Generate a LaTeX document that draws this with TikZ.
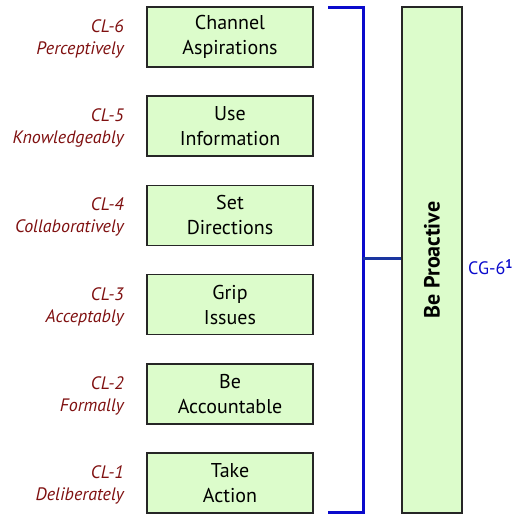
\documentclass[tikz,border=0pt]{standalone}
\usepackage{fontspec}
\setmainfont{PT Sans}
\definecolor{boxgreen}{HTML}{DCFCCB}
\definecolor{lblred}{HTML}{7F1010}
\definecolor{brblue}{HTML}{0A0ACC}
\definecolor{tickblue}{HTML}{1A35A0}
\tikzset{
  x=1pt, y=-1pt,
  skill/.style={draw=black!85, line width=1.6pt, fill=boxgreen, minimum width=166pt, minimum height=60pt, inner sep=0pt, align=center, font=\fontsize{20}{25}\selectfont},
  lbl/.style={anchor=east, align=right, text=lblred, font=\fontsize{18}{22}\selectfont\itshape, inner sep=0pt},
  brk/.style={draw=brblue, line width=3pt},
}
\begin{document}
\begin{tikzpicture}
\useasboundingbox (0,0) rectangle (524,524);
\foreach \i/\t/\l/\m in {6/{Channel\\Aspirations}/CL-6/Perceptively,
                        5/{Use\\Information}/CL-5/Knowledgeably,
                        4/{Set\\Directions}/CL-4/Collaboratively,
                        3/{Grip\\Issues}/CL-3/Acceptably,
                        2/{Be\\Accountable}/CL-2/Formally,
                        1/{Take\\Action}/CL-1/Deliberately}{
  \pgfmathsetmacro{\yc}{37+(6-\i)*89.2}
  \node[skill] (s\i) at (230,\yc) {\t};
  \node[lbl] (l\i) at (124,\yc+2) {\l\\\m};
}
\node[draw=black!85, line width=1.6pt, fill=boxgreen, minimum width=60pt, minimum height=506pt, inner sep=0pt] (bp) at (432,260) {};
\node[rotate=90, font=\fontsize{22}{26}\selectfont\bfseries] (bpt) at (bp.center) {Be Proactive};
\coordinate (bt) at (328,8);
\coordinate (bb) at (328,512);
\coordinate (bm) at (363,258);
\draw[brk] (bt) -- (363,8) -- (363,512) -- (bb);
\draw[draw=tickblue, line width=3pt] (bm) -- (bm -| bp.west);
\node[text=brblue, anchor=west, font=\fontsize{18}{20}\selectfont, inner sep=0pt] (cg) at (468,267) {CG-6\textsuperscript{\bfseries 1}};
\end{tikzpicture}
\end{document}
